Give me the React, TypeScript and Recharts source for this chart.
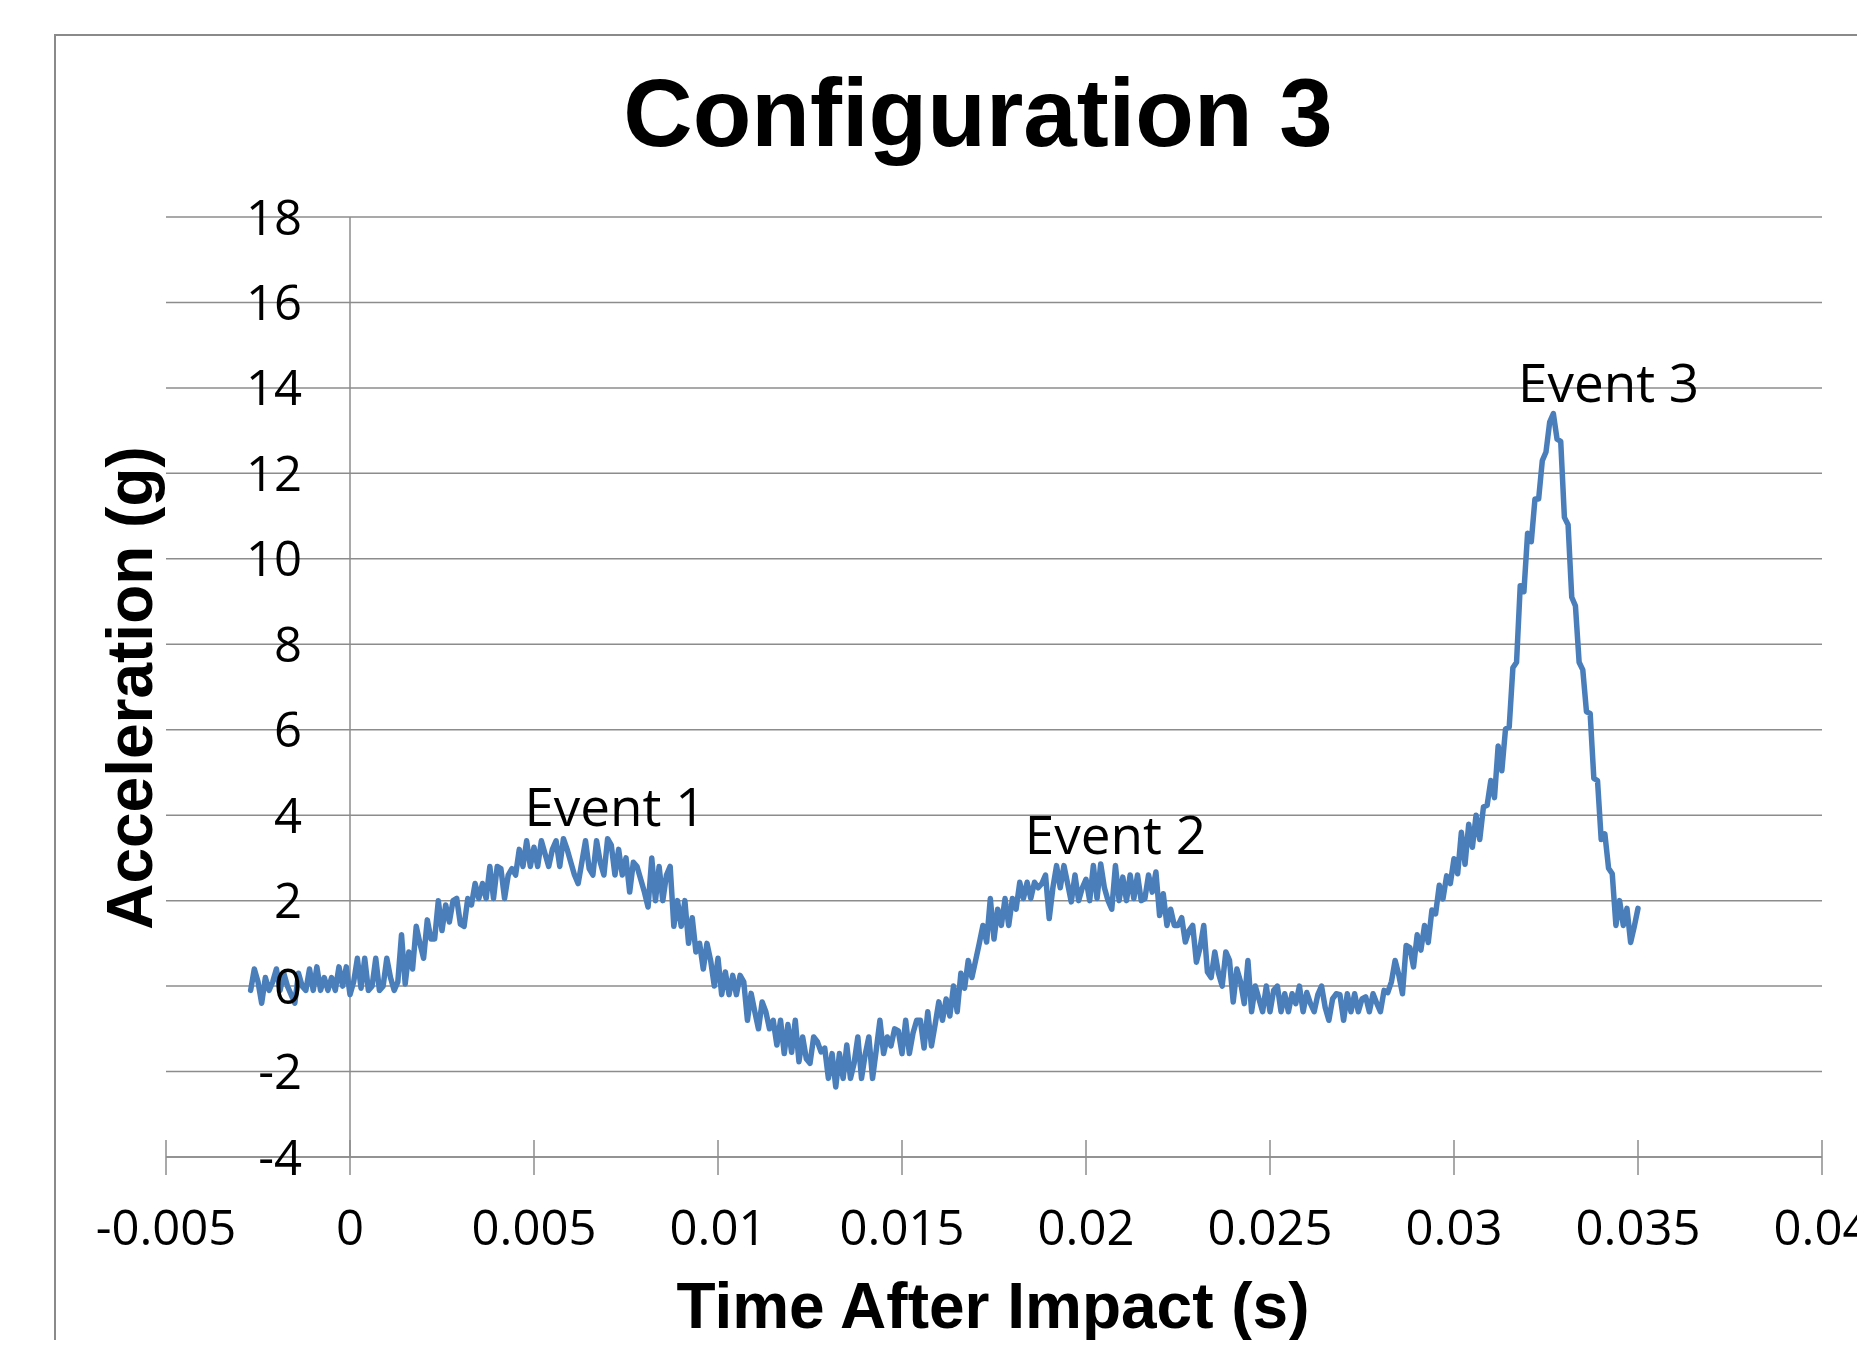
import React from 'react';
import {
  LineChart,
  Line,
  XAxis,
  YAxis,
  CartesianGrid,
  ReferenceLine,
  ReferenceDot,
} from 'recharts';

const chartTitle = 'Configuration 3';
const xAxisTitle = 'Time After Impact (s)';
const yAxisTitle = 'Acceleration (g)';

const timeTicks = [-0.005, 0, 0.005, 0.01, 0.015, 0.02, 0.025, 0.03, 0.035, 0.04];
const timeTickLabels = ['-0.005', '0', '0.005', '0.01', '0.015', '0.02', '0.025', '0.03', '0.035', '0.04'];
const accelTicks = [-4, -2, 0, 2, 4, 6, 8, 10, 12, 14, 16, 18];

// accelerometer log: one reading every 0.1 ms, first reading at -2.7 ms
const sampleStart = -0.0027;
const sampleStep = 0.0001;
const acceleration = [
  -0.1, 0.4, 0.1, -0.4, 0.2, -0.1, 0.1, 0.4, -0.1, 0.3,
  0.0, -0.2, -0.4, 0.3, 0.0, -0.1, 0.4, -0.1, 0.45, -0.1,
  0.2, -0.1, 0.2, -0.1, 0.45, 0.0, 0.45, -0.2, 0.1, 0.65,
  -0.05, 0.65, -0.1, 0.0, 0.65, -0.1, 0.0, 0.65, 0.2, -0.1,
  0.1, 1.2, 0.05, 0.8, 0.4, 1.4, 1.0, 0.65, 1.55, 1.1,
  1.1, 2.0, 1.3, 1.9, 1.5, 2.0, 2.05, 1.45, 1.4, 2.05,
  1.9, 2.4, 2.05, 2.4, 2.05, 2.8, 2.05, 2.8, 2.75, 2.05,
  2.6, 2.75, 2.6, 3.2, 2.8, 3.4, 2.8, 3.25, 2.8, 3.4,
  3.1, 2.8, 3.2, 3.4, 2.8, 3.45, 3.2, 2.9, 2.6, 2.4,
  2.9, 3.4, 2.75, 2.6, 3.4, 2.9, 2.6, 3.45, 3.3, 2.6,
  3.2, 2.6, 3.0, 2.2, 2.9, 2.8, 2.5, 2.2, 1.85, 3.0,
  2.0, 2.8, 2.0, 2.6, 2.8, 1.4, 2.0, 1.4, 2.0, 1.0,
  1.6, 0.8, 1.0, 0.4, 1.0, 0.6, 0.0, 0.65, -0.2, 0.33,
  -0.2, 0.25, -0.2, 0.25, 0.1, -0.8, -0.17, -0.6, -1.0, -0.37,
  -0.6, -1.0, -0.8, -1.38, -0.8, -1.58, -0.9, -1.55, -0.8, -1.77,
  -1.19, -1.7, -1.81, -1.19, -1.3, -1.54, -1.45, -2.16, -1.58, -2.36,
  -1.58, -2.16, -1.38, -2.16, -1.8, -1.19, -2.16, -1.6, -1.19, -2.16,
  -1.5, -0.8, -1.58, -1.19, -1.4, -1.0, -1.05, -1.58, -0.8, -1.58,
  -1.1, -0.8, -0.8, -1.45, -0.6, -1.4, -0.9, -0.37, -0.8, -0.3,
  -0.7, 0.0, -0.6, 0.3, -0.05, 0.6, 0.2, 0.6, 1.0, 1.42,
  1.03, 2.05, 1.1, 1.8, 1.42, 2.05, 1.42, 2.05, 1.8, 2.43,
  2.05, 2.43, 2.05, 2.43, 2.3, 2.4, 2.6, 1.58, 2.3, 2.82,
  2.3, 2.82, 2.4, 1.97, 2.6, 2.0, 2.3, 2.5, 2.0, 2.82,
  2.05, 2.86, 2.3, 2.0, 1.8, 2.82, 2.0, 2.55, 2.0, 2.6,
  2.05, 2.6, 2.0, 2.05, 2.6, 2.2, 2.67, 1.65, 2.16, 1.42,
  1.8, 1.42, 1.42, 1.6, 1.03, 1.3, 1.42, 0.56, 0.9, 1.42,
  0.33, 0.2, 0.8, 0.3, 0.0, 0.8, 0.6, -0.37, 0.4, 0.1,
  -0.41, 0.6, -0.6, 0.0, -0.3, -0.6, 0.0, -0.6, -0.1, 0.0,
  -0.6, -0.18, -0.6, -0.18, -0.41, 0.0, -0.6, -0.15, -0.41, -0.6,
  -0.2, 0.0, -0.5, -0.8, -0.3, -0.18, -0.2, -0.8, -0.18, -0.6,
  -0.18, -0.6, -0.3, -0.25, -0.6, -0.18, -0.4, -0.6, -0.1, -0.15,
  0.1, 0.6, 0.26, -0.18, 0.95, 0.9, 0.45, 1.2, 0.84, 1.42,
  1.02, 1.78, 1.69, 2.36, 2.04, 2.58, 2.4, 2.98, 2.63, 3.6,
  2.85, 3.79, 3.25, 4.0, 3.43, 4.19, 4.23, 4.81, 4.41, 5.62,
  5.04, 6.02, 6.06, 7.45, 7.58, 9.37, 9.23, 10.6, 10.4, 11.4,
  11.4, 12.3, 12.5, 13.2, 13.4, 12.8, 12.75, 10.97, 10.8, 9.1,
  8.9, 7.58, 7.4, 6.42, 6.38, 4.86, 4.81, 3.43, 3.56, 2.76,
  2.63, 1.42, 2.0, 1.42, 1.82, 1.02, 1.4, 1.82,
];

const eventLabels = ['Event 1', 'Event 2', 'Event 3'];
const eventTimes = [0.0072, 0.0208, 0.0342];
const eventAccels = [3.75, 3.1, 13.66];

const WIDTH = 1865;
const HEIGHT = 1348;
const GRID = '#8c8c8c';
const SERIES = '#4a7ebb';
const TICK_FONT = "'Open Sans', 'Noto Sans', sans-serif";
const TITLE_FONT = "'Liberation Sans', Arial, sans-serif";

const data = acceleration.map((g, i) => ({
  time: Number((sampleStart + i * sampleStep).toFixed(4)),
  g,
}));

const TimeTick = (props: any) => {
  const { x, y, payload } = props;
  const idx = timeTicks.indexOf(payload.value);
  const label = idx >= 0 ? timeTickLabels[idx] : String(payload.value);
  return (
    <g>
      <line x1={x} x2={x} y1={y - 17} y2={y + 18} stroke={GRID} strokeWidth={1.5} />
      <text x={x} y={y + 88} textAnchor="middle" fontFamily={TICK_FONT} fontSize={49} fill="#000">
        {label}
      </text>
    </g>
  );
};

// labels sit inside the plot, just left of the zero line
const AccelTick = (props: any) => {
  const { x, y, payload } = props;
  return (
    <text x={x + 136} y={y + 17.5} textAnchor="end" fontFamily={TICK_FONT} fontSize={49} fill="#000">
      {payload.value}
    </text>
  );
};

const App: React.FC = () => {
  return (
    <div
      style={{
        position: 'relative',
        width: WIDTH,
        height: HEIGHT,
        margin: -8,
        overflow: 'hidden',
        background: '#fff',
      }}
    >
      {/* chart area frame, runs off the right and bottom edge */}
      <div
        style={{
          position: 'absolute',
          left: 54,
          top: 34,
          width: 2400,
          height: 2400,
          border: '2px solid #8a8a8a',
        }}
      />
      <div style={{ position: 'absolute', left: 0, top: 0 }}>
        <LineChart width={WIDTH} height={HEIGHT} data={data} margin={{ top: 217, right: 43, bottom: 91, left: 106 }}>
          <CartesianGrid vertical={false} stroke={GRID} strokeWidth={1.5} />
          <XAxis
            dataKey="time"
            type="number"
            domain={[-0.005, 0.04]}
            ticks={timeTicks}
            interval={0}
            allowDataOverflow
            tickLine={false}
            tickSize={0}
            tickMargin={0}
            height={100}
            axisLine={{ stroke: GRID, strokeWidth: 1.5 }}
            tick={TimeTick}
          />
          <YAxis
            type="number"
            domain={[-4, 18]}
            ticks={accelTicks}
            interval={0}
            allowDataOverflow
            axisLine={false}
            tickLine={false}
            tickSize={0}
            tickMargin={0}
            width={60}
            tick={AccelTick}
          />
          <ReferenceLine x={0} stroke={GRID} strokeWidth={1.5} />
          <Line
            type="linear"
            dataKey="g"
            stroke={SERIES}
            strokeWidth={5.5}
            strokeLinejoin="round"
            strokeLinecap="round"
            dot={false}
            activeDot={false}
            isAnimationActive={false}
          />
          {eventLabels.map((label, i) => (
            <ReferenceDot
              key={label}
              x={eventTimes[i]}
              y={eventAccels[i]}
              r={0}
              shape={(p: any) => (
                <text x={p.cx} y={p.cy} textAnchor="middle" fontFamily={TICK_FONT} fontSize={53} fill="#000">
                  {label}
                </text>
              )}
            />
          ))}
        </LineChart>
      </div>
      <svg
        width={WIDTH}
        height={HEIGHT}
        style={{ position: 'absolute', left: 0, top: 0, pointerEvents: 'none' }}
      >
        <text x={978} y={146} textAnchor="middle" fontFamily={TITLE_FONT} fontWeight="bold" fontSize={96} fill="#000">
          {chartTitle}
        </text>
        <text x={993} y={1328} textAnchor="middle" fontFamily={TITLE_FONT} fontWeight="bold" fontSize={64} fill="#000">
          {xAxisTitle}
        </text>
        <text
          x={152}
          y={688}
          transform="rotate(-90 152 688)"
          textAnchor="middle"
          fontFamily={TITLE_FONT}
          fontWeight="bold"
          fontSize={64}
          fill="#000"
        >
          {yAxisTitle}
        </text>
      </svg>
    </div>
  );
};

export default App;
